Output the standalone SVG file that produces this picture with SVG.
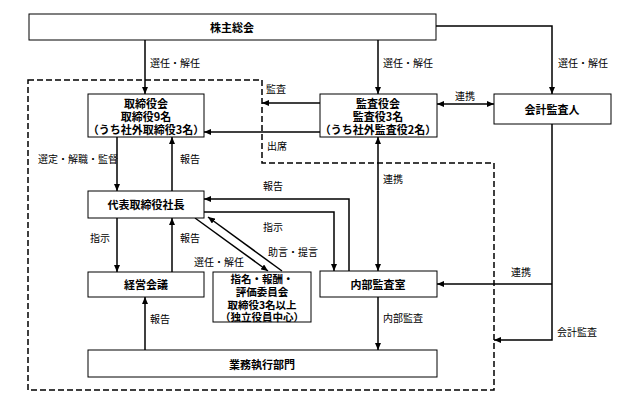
<svg xmlns="http://www.w3.org/2000/svg" width="640" height="405" viewBox="0 0 640 405">
<defs>
<marker id="ah" markerUnits="userSpaceOnUse" markerWidth="7" markerHeight="6" refX="7" refY="3" orient="auto-start-reverse">
<path d="M0,0 L7,3 L0,6 z" fill="#000"/>
</marker>
<style>
.box{fill:#fff;stroke:#000;stroke-width:1}
.bt{font-family:"Noto Sans CJK JP","Noto Sans CJK SC",sans-serif;font-size:11px;font-weight:bold;fill:#000;text-anchor:middle;dominant-baseline:central}
.bs{font-size:10.5px}
.lb{font-family:"Noto Sans CJK JP","Noto Sans CJK SC",sans-serif;font-size:10px;fill:#000;dominant-baseline:central}
.ar{fill:none;stroke:#000;stroke-width:1.5;marker-end:url(#ah)}
.ar2{fill:none;stroke:#000;stroke-width:1.5;marker-end:url(#ah);marker-start:url(#ah)}
.dash{fill:none;stroke:#000;stroke-width:1.5;stroke-dasharray:6,3}
</style>
</defs>
<rect width="640" height="405" fill="#fff"/>
<path class="dash" d="M28,80 H262 V163 H494 V390 H28 Z"/>
<g id="connectors">
<path class="ar" d="M145,40 V94"/>
<path class="ar" d="M378,40 V94"/>
<path class="ar" d="M436,26 H552 V94"/>
<path class="ar2" d="M437,104 H494"/>
<path class="ar" d="M320,103 H262"/>
<path class="ar" d="M320,132 H204"/>
<path class="ar" d="M117,137 V191"/>
<path class="ar" d="M172,191 V137"/>
<path class="ar" d="M117,218 V272"/>
<path class="ar" d="M172,272 V218"/>
<path class="ar" d="M195,218 L268,271"/>
<path class="ar" d="M282,271 L208,217"/>
<path class="ar" d="M349,271 V199 H204"/>
<path class="ar" d="M204,212 H334 V271"/>
<path class="ar2" d="M378,137 V271"/>
<path class="ar" d="M552,124 V340 H494"/>
<path class="ar" d="M552,284 H437"/>
<path class="ar" d="M145,350 V297"/>
<path class="ar" d="M378,297 V350"/>
<text class="lb" x="150" y="62">選任・解任</text>
<text class="lb" x="383" y="62">選任・解任</text>
<text class="lb" x="558" y="62">選任・解任</text>
<text class="lb" x="455" y="95">連携</text>
<text class="lb" x="266" y="88">監査</text>
<text class="lb" x="267" y="145">出席</text>
<text class="lb" x="38" y="158">選定・解職・監督</text>
<text class="lb" x="180" y="158">報告</text>
<text class="lb" x="263" y="185">報告</text>
<text class="lb" x="263" y="226">指示</text>
<text class="lb" x="90" y="237">指示</text>
<text class="lb" x="180" y="237">報告</text>
<text class="lb" x="268" y="251">助言・提言</text>
<text class="lb" x="194" y="261">選任・解任</text>
<text class="lb" x="383" y="178">連携</text>
<text class="lb" x="511" y="271">連携</text>
<text class="lb" x="150" y="318">報告</text>
<text class="lb" x="383" y="317">内部監査</text>
<text class="lb" x="557" y="331">会計監査</text>
</g>
<g id="shareholders"><rect class="box" x="29" y="14" width="407" height="26"/><text class="bt" x="232" y="27">株主総会</text></g>
<g id="board"><rect class="box" x="88" y="94" width="116" height="43"/><text class="bt" x="146" y="103">取締役会<tspan x="146" dy="13">取締役9名</tspan><tspan x="146" dy="13">（うち社外取締役3名）</tspan></text></g>
<g id="auditors"><rect class="box" x="320" y="94" width="117" height="43"/><text class="bt" x="378" y="103">監査役会<tspan x="378" dy="13">監査役3名</tspan><tspan x="378" dy="13">（うち社外監査役2名）</tspan></text></g>
<g id="accounting-auditor"><rect class="box" x="494" y="94" width="117" height="30"/><text class="bt" x="552" y="109">会計監査人</text></g>
<g id="president"><rect class="box" x="88" y="191" width="116" height="27"/><text class="bt" x="146" y="204">代表取締役社長</text></g>
<g id="management-meeting"><rect class="box" x="88" y="272" width="116" height="25"/><text class="bt" x="146" y="284">経営会議</text></g>
<g id="committee"><rect class="box" x="213" y="272" width="98" height="50"/><text class="bt bs" x="262" y="278.5">指名・報酬・<tspan x="262" dy="12.5">評価委員会</tspan><tspan x="262" dy="12.5">取締役3名以上</tspan><tspan x="262" dy="12.5">（独立役員中心）</tspan></text></g>
<g id="internal-audit"><rect class="box" x="320" y="271" width="117" height="26"/><text class="bt" x="378" y="284">内部監査室</text></g>
<g id="operations"><rect class="box" x="88" y="350" width="349" height="27"/><text class="bt" x="262" y="364">業務執行部門</text></g>
</svg>
